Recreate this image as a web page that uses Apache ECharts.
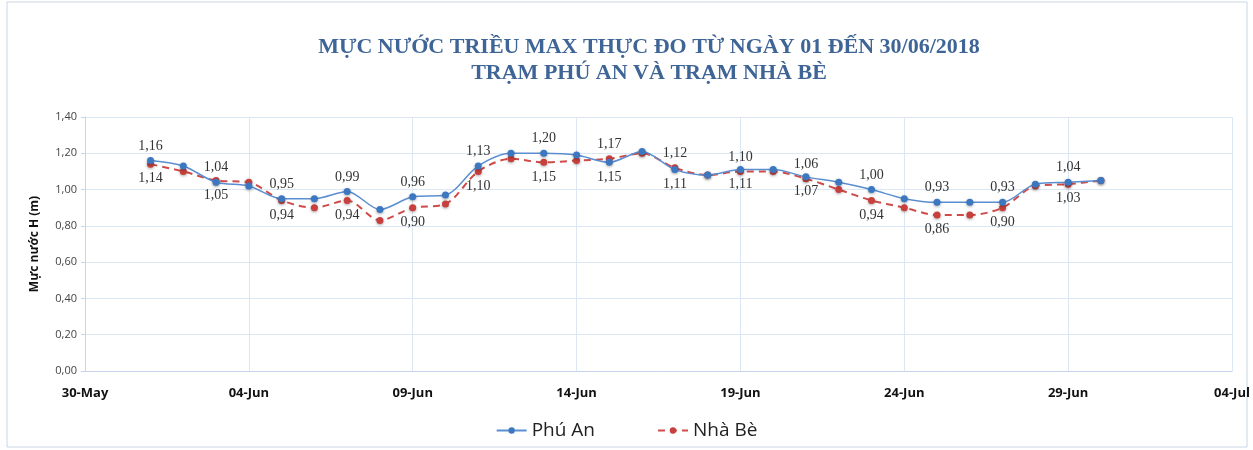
<!DOCTYPE html>
<html>
<head>
<meta charset="utf-8">
<script src="https://cdn.jsdelivr.net/npm/echarts@6/dist/echarts.min.js"></script>
<style>
  html, body { margin: 0; padding: 0; background: #fff; }
  #chart { width: 1253px; height: 450px; }
</style>
</head>
<body>
<div id="chart"></div>
<script>
// days of June 2018
const days = [1, 2, 3, 4, 5, 6, 7, 8, 9, 10, 11, 12, 13, 14, 15, 16, 17, 18, 19, 20, 21, 22, 23, 24, 25, 26, 27, 28, 29, 30];
const phuAn = [1.16, 1.13, 1.04, 1.02, 0.95, 0.95, 0.99, 0.89, 0.96, 0.97, 1.13, 1.20, 1.20, 1.19, 1.15, 1.21, 1.11, 1.08, 1.11, 1.11, 1.07, 1.04, 1.00, 0.95, 0.93, 0.93, 0.93, 1.03, 1.04, 1.05];
const nhaBe = [1.14, 1.10, 1.05, 1.04, 0.94, 0.90, 0.94, 0.83, 0.90, 0.92, 1.10, 1.17, 1.15, 1.16, 1.17, 1.20, 1.12, 1.08, 1.10, 1.10, 1.06, 1.00, 0.94, 0.90, 0.86, 0.86, 0.90, 1.02, 1.03, 1.05];
// ngày có nhãn (ngày lẻ) và những ngày nhãn Nhà Bè nằm trên
const labelDays = [1, 3, 5, 7, 9, 11, 13, 15, 17, 19, 21, 23, 25, 27, 29];
const swapDays = [15, 17, 19, 21];
// trục X: 0 = 30-May
const xTickLabels = ['30-May', '04-Jun', '09-Jun', '14-Jun', '19-Jun', '24-Jun', '29-Jun', '04-Jul'];

const fmt = v => v.toFixed(2).replace('.', ',');

function buildData(vals, isTop) {
  return days.map((d, i) => {
    const show = labelDays.includes(d);
    let top = isTop;
    if (swapDays.includes(d)) top = !top;
    return {
      value: [d + 1, vals[i]],
      label: { show: show, position: top ? 'top' : 'bottom' }
    };
  });
}

const chart = echarts.init(document.getElementById('chart'));

const labelStyle = {
  fontFamily: 'Liberation Serif',
  fontSize: 14,
  color: '#333',
  distance: 4,
  formatter: p => fmt(p.value[1])
};

chart.setOption({
  animation: false,
  graphic: [{
    type: 'rect',
    shape: { x: 7, y: 2, width: 1240, height: 445 },
    style: { fill: 'none', stroke: '#c9d6e6', lineWidth: 1 }
  }],
  title: {
    text: 'MỰC NƯỚC TRIỀU MAX THỰC ĐO TỪ NGÀY 01 ĐẾN 30/06/2018\nTRẠM PHÚ AN VÀ TRẠM NHÀ BÈ',
    left: 644,
    top: 29,
    textAlign: 'center',
    textStyle: {
      fontFamily: 'Liberation Serif',
      fontWeight: 'bold',
      fontSize: 22,
      lineHeight: 26,
      color: '#3F6596'
    }
  },
  legend: {
    bottom: 5,
    left: 'center',
    itemGap: 62,
    itemWidth: 30,
    itemHeight: 8,
    textStyle: { fontFamily: 'Open Sans', fontSize: 19, color: '#222' },
    data: ['Phú An', 'Nhà Bè']
  },
  grid: { left: 85, right: 21, top: 117, bottom: 79 },
  xAxis: {
    type: 'value',
    min: 0,
    max: 35,
    interval: 5,
    axisLine: { show: true, lineStyle: { color: '#c5d6ec' } },
    axisTick: { show: false },
    splitLine: { show: true, lineStyle: { color: '#dce7f4' } },
    axisLabel: {
      margin: 16,
      fontFamily: 'Open Sans',
      fontWeight: 'bold',
      fontSize: 13,
      color: '#111',
      formatter: v => xTickLabels[v / 5] || ''
    }
  },
  yAxis: {
    type: 'value',
    min: 0,
    max: 1.4,
    interval: 0.2,
    name: 'Mực nước H (m)',
    nameLocation: 'middle',
    nameGap: 44,
    nameTextStyle: { fontFamily: 'Open Sans', fontWeight: 'bold', fontSize: 12, color: '#111' },
    axisLine: { show: true, lineStyle: { color: '#c5d6ec' } },
    axisTick: { show: true, length: 4, lineStyle: { color: '#c5d6ec' } },
    splitLine: { show: true, lineStyle: { color: '#dce7f4' } },
    axisLabel: {
      fontFamily: 'Open Sans',
      fontSize: 11,
      color: '#444',
      margin: 8,
      formatter: v => fmt(v)
    }
  },
  series: [
    {
      name: 'Phú An',
      type: 'line',
      smooth: 0.3,
      symbol: 'circle',
      symbolSize: 7,
      z: 3,
      lineStyle: { color: '#5B8ED0', width: 1.5 },
      itemStyle: { color: '#3C78C2', shadowBlur: 3, shadowColor: 'rgba(0,0,0,0.35)', shadowOffsetY: 1 },
      label: labelStyle,
      data: buildData(phuAn, true)
    },
    {
      name: 'Nhà Bè',
      type: 'line',
      smooth: 0.3,
      symbol: 'circle',
      symbolSize: 7,
      z: 2,
      lineStyle: { color: '#CE4B48', width: 2, type: [7, 5] },
      itemStyle: { color: '#C8403D', shadowBlur: 3, shadowColor: 'rgba(0,0,0,0.35)', shadowOffsetY: 1 },
      label: labelStyle,
      data: buildData(nhaBe, false)
    }
  ]
});
</script>
</body>
</html>
